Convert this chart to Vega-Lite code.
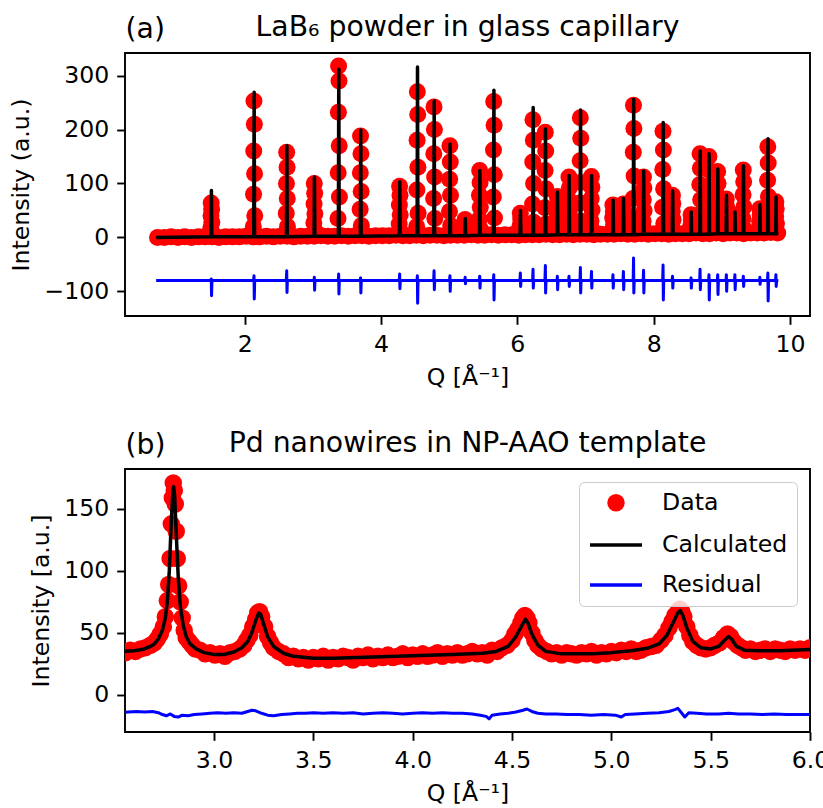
{
  "$schema": "https://vega.github.io/schema/vega-lite/v6.json",
  "background": "white",
  "padding": {"left": 8, "top": 11, "right": 5, "bottom": 5},
  "spacing": 36,
  "config": {
    "font": "DejaVu Sans",
    "view": {"stroke": "black", "strokeWidth": 1.9},
    "axis": {"domain": false, "grid": false, "ticks": true, "tickColor": "black", "tickWidth": 1.9, "tickSize": 8.3, "labelFont": "DejaVu Sans", "labelFontSize": 23.6, "labelColor": "black", "labelPadding": 8, "titleFont": "DejaVu Sans", "titleFontSize": 23.6, "titleFontWeight": "normal", "titleColor": "black", "titlePadding": 10, "labelFlush": false, "labelOverlap": false},
    "title": {"font": "DejaVu Sans", "fontSize": 28.3, "fontWeight": "normal", "color": "black"},
    "legend": {"labelFont": "DejaVu Sans", "labelFontSize": 23.6, "labelColor": "black"}
  },
  "datasets": {
    "lab6_obs": [
      {"q":0.72,"i":0},{"q":0.82,"i":0},{"q":0.92,"i":1},{"q":1.02,"i":0},{"q":1.12,"i":1},{"q":1.22,"i":0},{"q":1.32,"i":1},{"q":1.42,"i":1},{"q":1.52,"i":1},{"q":1.62,"i":0},{"q":1.72,"i":1},{"q":1.82,"i":1},{"q":1.92,"i":1},{"q":2.02,"i":2},{"q":2.12,"i":1},{"q":2.22,"i":1},{"q":2.32,"i":2},{"q":2.42,"i":1},{"q":2.52,"i":2},{"q":2.62,"i":2},{"q":2.72,"i":1},{"q":2.82,"i":2},{"q":2.92,"i":2},{"q":3.02,"i":2},{"q":3.12,"i":3},{"q":3.22,"i":2},{"q":3.32,"i":2},{"q":3.42,"i":3},{"q":3.52,"i":2},{"q":3.62,"i":3},{"q":3.72,"i":3},{"q":3.82,"i":2},{"q":3.92,"i":3},{"q":4.02,"i":3},{"q":4.12,"i":3},{"q":4.22,"i":4},{"q":4.32,"i":3},{"q":4.42,"i":3},{"q":4.52,"i":4},{"q":4.62,"i":3},{"q":4.72,"i":4},{"q":4.82,"i":4},{"q":4.92,"i":3},{"q":5.02,"i":4},{"q":5.12,"i":4},{"q":5.22,"i":4},{"q":5.32,"i":5},{"q":5.42,"i":4},{"q":5.52,"i":4},{"q":5.62,"i":5},{"q":5.72,"i":4},{"q":5.82,"i":5},{"q":5.92,"i":5},{"q":6.02,"i":4},{"q":6.12,"i":5},{"q":6.22,"i":5},{"q":6.32,"i":5},{"q":6.42,"i":6},{"q":6.52,"i":5},{"q":6.62,"i":5},{"q":6.72,"i":6},{"q":6.82,"i":5},{"q":6.92,"i":6},{"q":7.02,"i":6},{"q":7.12,"i":5},{"q":7.22,"i":6},{"q":7.32,"i":6},{"q":7.42,"i":6},{"q":7.52,"i":7},{"q":7.62,"i":6},{"q":7.72,"i":6},{"q":7.82,"i":7},{"q":7.92,"i":6},{"q":8.02,"i":7},{"q":8.12,"i":7},{"q":8.22,"i":6},{"q":8.32,"i":7},{"q":8.42,"i":7},{"q":8.52,"i":7},{"q":8.62,"i":8},{"q":8.72,"i":7},{"q":8.82,"i":7},{"q":8.92,"i":8},{"q":9.02,"i":7},{"q":9.12,"i":8},{"q":9.22,"i":8},{"q":9.32,"i":7},{"q":9.42,"i":8},{"q":9.52,"i":8},{"q":9.62,"i":8},{"q":9.72,"i":9},{"q":9.82,"i":8},
      {"q":1.508,"i":64},{"q":1.514,"i":52},{"q":1.505,"i":40},{"q":1.517,"i":28},{"q":1.502,"i":17},{"q":1.52,"i":8},
      {"q":2.135,"i":253},{"q":2.141,"i":210},{"q":2.132,"i":160},{"q":2.144,"i":118},{"q":2.129,"i":80},{"q":2.147,"i":40},{"q":2.126,"i":20},
      {"q":2.615,"i":158},{"q":2.621,"i":130},{"q":2.612,"i":100},{"q":2.624,"i":72},{"q":2.609,"i":45},{"q":2.627,"i":20},
      {"q":3.02,"i":100},{"q":3.026,"i":82},{"q":3.017,"i":62},{"q":3.029,"i":44},{"q":3.014,"i":27},{"q":3.032,"i":12},
      {"q":3.377,"i":318},{"q":3.383,"i":290},{"q":3.374,"i":232},{"q":3.386,"i":170},{"q":3.371,"i":120},{"q":3.389,"i":75},{"q":3.368,"i":35},
      {"q":3.699,"i":188},{"q":3.705,"i":155},{"q":3.696,"i":120},{"q":3.708,"i":85},{"q":3.693,"i":52},{"q":3.711,"i":22},
      {"q":4.272,"i":95},{"q":4.278,"i":78},{"q":4.269,"i":60},{"q":4.281,"i":42},{"q":4.266,"i":25},{"q":4.284,"i":11},
      {"q":4.532,"i":270},{"q":4.538,"i":228},{"q":4.529,"i":180},{"q":4.541,"i":130},{"q":4.526,"i":88},{"q":4.544,"i":45},{"q":4.523,"i":20},
      {"q":4.777,"i":242},{"q":4.783,"i":200},{"q":4.774,"i":155},{"q":4.786,"i":112},{"q":4.771,"i":72},{"q":4.789,"i":35},
      {"q":5.01,"i":170},{"q":5.016,"i":140},{"q":5.007,"i":108},{"q":5.019,"i":78},{"q":5.004,"i":48},{"q":5.022,"i":22},
      {"q":5.233,"i":33},{"q":5.239,"i":24},{"q":5.23,"i":15},
      {"q":5.447,"i":124},{"q":5.453,"i":102},{"q":5.444,"i":78},{"q":5.456,"i":56},{"q":5.441,"i":34},{"q":5.459,"i":15},
      {"q":5.653,"i":252},{"q":5.659,"i":208},{"q":5.65,"i":162},{"q":5.662,"i":116},{"q":5.647,"i":75},{"q":5.665,"i":36},
      {"q":6.043,"i":45},{"q":6.049,"i":34},{"q":6.04,"i":22},{"q":6.052,"i":12},
      {"q":6.229,"i":218},{"q":6.235,"i":180},{"q":6.226,"i":140},{"q":6.238,"i":100},{"q":6.223,"i":62},{"q":6.241,"i":28},
      {"q":6.41,"i":195},{"q":6.416,"i":160},{"q":6.407,"i":124},{"q":6.419,"i":90},{"q":6.404,"i":55},{"q":6.422,"i":25},
      {"q":6.586,"i":76},{"q":6.592,"i":62},{"q":6.583,"i":46},{"q":6.595,"i":32},{"q":6.58,"i":18},
      {"q":6.757,"i":112},{"q":6.763,"i":92},{"q":6.754,"i":70},{"q":6.766,"i":50},{"q":6.751,"i":30},{"q":6.769,"i":14},
      {"q":6.924,"i":222},{"q":6.93,"i":184},{"q":6.921,"i":142},{"q":6.933,"i":102},{"q":6.918,"i":64},{"q":6.936,"i":30},
      {"q":7.087,"i":113},{"q":7.093,"i":93},{"q":7.084,"i":72},{"q":7.096,"i":51},{"q":7.081,"i":31},{"q":7.099,"i":14},
      {"q":7.402,"i":60},{"q":7.408,"i":48},{"q":7.399,"i":36},{"q":7.411,"i":24},{"q":7.396,"i":13},
      {"q":7.555,"i":62},{"q":7.561,"i":50},{"q":7.552,"i":37},{"q":7.564,"i":25},{"q":7.549,"i":13},
      {"q":7.704,"i":245},{"q":7.71,"i":202},{"q":7.701,"i":158},{"q":7.713,"i":114},{"q":7.698,"i":72},{"q":7.716,"i":34},
      {"q":7.851,"i":112},{"q":7.857,"i":92},{"q":7.848,"i":70},{"q":7.86,"i":50},{"q":7.845,"i":30},{"q":7.863,"i":14},
      {"q":8.137,"i":197},{"q":8.143,"i":162},{"q":8.134,"i":126},{"q":8.146,"i":90},{"q":8.131,"i":56},{"q":8.149,"i":26},
      {"q":8.276,"i":78},{"q":8.282,"i":63},{"q":8.273,"i":48},{"q":8.285,"i":33},{"q":8.27,"i":19},
      {"q":8.548,"i":42},{"q":8.554,"i":32},{"q":8.545,"i":21},{"q":8.557,"i":12},
      {"q":8.68,"i":155},{"q":8.686,"i":128},{"q":8.677,"i":98},{"q":8.689,"i":70},{"q":8.674,"i":43},{"q":8.692,"i":20},
      {"q":8.811,"i":150},{"q":8.817,"i":124},{"q":8.808,"i":95},{"q":8.82,"i":68},{"q":8.805,"i":42},{"q":8.823,"i":19},
      {"q":8.939,"i":122},{"q":8.945,"i":100},{"q":8.936,"i":77},{"q":8.948,"i":55},{"q":8.933,"i":34},{"q":8.951,"i":16},
      {"q":9.066,"i":71},{"q":9.072,"i":57},{"q":9.063,"i":43},{"q":9.075,"i":30},{"q":9.06,"i":17},
      {"q":9.191,"i":41},{"q":9.197,"i":31},{"q":9.188,"i":20},{"q":9.2,"i":11},
      {"q":9.315,"i":125},{"q":9.321,"i":103},{"q":9.312,"i":79},{"q":9.324,"i":57},{"q":9.309,"i":35},{"q":9.327,"i":16},
      {"q":9.557,"i":53},{"q":9.563,"i":42},{"q":9.554,"i":30},{"q":9.566,"i":18},
      {"q":9.675,"i":168},{"q":9.681,"i":138},{"q":9.672,"i":106},{"q":9.684,"i":76},{"q":9.669,"i":47},{"q":9.687,"i":21},
      {"q":9.793,"i":66},{"q":9.799,"i":53},{"q":9.79,"i":39},{"q":9.802,"i":26},{"q":9.787,"i":14}
    ],
    "lab6_calc": [
      {"q":0.70,"i":0},
      {"q":1.505,"i":1},{"q":1.511,"i":87},{"q":1.517,"i":1},
      {"q":2.132,"i":1},{"q":2.138,"i":269},{"q":2.144,"i":1},
      {"q":2.612,"i":1},{"q":2.618,"i":170},{"q":2.624,"i":1},
      {"q":3.017,"i":2},{"q":3.023,"i":112},{"q":3.029,"i":2},
      {"q":3.374,"i":2},{"q":3.38,"i":312},{"q":3.386,"i":2},
      {"q":3.696,"i":2},{"q":3.702,"i":199},{"q":3.708,"i":2},
      {"q":4.269,"i":3},{"q":4.275,"i":103},{"q":4.281,"i":3},
      {"q":4.529,"i":3},{"q":4.535,"i":316},{"q":4.541,"i":3},
      {"q":4.774,"i":3},{"q":4.78,"i":253},{"q":4.786,"i":3},
      {"q":5.007,"i":3},{"q":5.013,"i":173},{"q":5.019,"i":3},
      {"q":5.23,"i":3},{"q":5.236,"i":35},{"q":5.242,"i":3},
      {"q":5.444,"i":4},{"q":5.45,"i":124},{"q":5.456,"i":4},
      {"q":5.65,"i":4},{"q":5.656,"i":273},{"q":5.662,"i":4},
      {"q":6.04,"i":4},{"q":6.046,"i":50},{"q":6.052,"i":4},
      {"q":6.226,"i":4},{"q":6.232,"i":241},{"q":6.238,"i":4},
      {"q":6.407,"i":4},{"q":6.413,"i":201},{"q":6.419,"i":4},
      {"q":6.583,"i":5},{"q":6.589,"i":84},{"q":6.595,"i":5},
      {"q":6.754,"i":5},{"q":6.76,"i":115},{"q":6.766,"i":5},
      {"q":6.921,"i":5},{"q":6.927,"i":236},{"q":6.933,"i":5},
      {"q":7.084,"i":5},{"q":7.09,"i":115},{"q":7.096,"i":5},
      {"q":7.399,"i":5},{"q":7.405,"i":69},{"q":7.411,"i":5},
      {"q":7.552,"i":5},{"q":7.558,"i":72},{"q":7.564,"i":5},
      {"q":7.701,"i":5},{"q":7.707,"i":256},{"q":7.713,"i":5},
      {"q":7.848,"i":6},{"q":7.854,"i":123},{"q":7.86,"i":6},
      {"q":8.134,"i":6},{"q":8.14,"i":213},{"q":8.146,"i":6},
      {"q":8.273,"i":6},{"q":8.279,"i":86},{"q":8.285,"i":6},
      {"q":8.545,"i":6},{"q":8.551,"i":47},{"q":8.557,"i":6},
      {"q":8.677,"i":6},{"q":8.683,"i":160},{"q":8.689,"i":6},
      {"q":8.808,"i":6},{"q":8.814,"i":155},{"q":8.82,"i":6},
      {"q":8.936,"i":7},{"q":8.942,"i":127},{"q":8.948,"i":7},
      {"q":9.063,"i":7},{"q":9.069,"i":78},{"q":9.075,"i":7},
      {"q":9.188,"i":7},{"q":9.194,"i":47},{"q":9.2,"i":7},
      {"q":9.312,"i":7},{"q":9.318,"i":133},{"q":9.324,"i":7},
      {"q":9.554,"i":7},{"q":9.56,"i":61},{"q":9.566,"i":7},
      {"q":9.672,"i":7},{"q":9.678,"i":183},{"q":9.684,"i":7},
      {"q":9.79,"i":7},{"q":9.796,"i":75},{"q":9.802,"i":7},
      {"q":9.83,"i":7}
    ],
    "lab6_res": [
      {"q":0.70,"i":-80},
      {"q":1.503,"i":-80},{"q":1.509,"i":-77},{"q":1.513,"i":-108},{"q":1.519,"i":-80},
      {"q":2.13,"i":-80},{"q":2.136,"i":-71},{"q":2.14,"i":-114},{"q":2.146,"i":-80},
      {"q":2.61,"i":-80},{"q":2.616,"i":-62},{"q":2.62,"i":-102},{"q":2.626,"i":-80},
      {"q":3.015,"i":-80},{"q":3.021,"i":-74},{"q":3.025,"i":-98},{"q":3.031,"i":-80},
      {"q":3.372,"i":-80},{"q":3.378,"i":-68},{"q":3.382,"i":-105},{"q":3.388,"i":-80},
      {"q":3.694,"i":-80},{"q":3.7,"i":-75},{"q":3.704,"i":-103},{"q":3.71,"i":-80},
      {"q":4.267,"i":-80},{"q":4.273,"i":-68},{"q":4.277,"i":-95},{"q":4.283,"i":-80},
      {"q":4.527,"i":-80},{"q":4.533,"i":-71},{"q":4.537,"i":-122},{"q":4.543,"i":-80},
      {"q":4.772,"i":-80},{"q":4.778,"i":-62},{"q":4.782,"i":-97},{"q":4.788,"i":-80},
      {"q":5.005,"i":-80},{"q":5.011,"i":-71},{"q":5.015,"i":-100},{"q":5.021,"i":-80},
      {"q":5.228,"i":-80},{"q":5.234,"i":-74},{"q":5.238,"i":-86},{"q":5.244,"i":-80},
      {"q":5.442,"i":-80},{"q":5.448,"i":-72},{"q":5.452,"i":-94},{"q":5.458,"i":-80},
      {"q":5.648,"i":-80},{"q":5.654,"i":-69},{"q":5.658,"i":-116},{"q":5.664,"i":-80},
      {"q":6.038,"i":-80},{"q":6.044,"i":-66},{"q":6.048,"i":-91},{"q":6.054,"i":-80},
      {"q":6.224,"i":-80},{"q":6.23,"i":-59},{"q":6.234,"i":-94},{"q":6.24,"i":-80},
      {"q":6.405,"i":-80},{"q":6.411,"i":-52},{"q":6.415,"i":-103},{"q":6.421,"i":-80},
      {"q":6.581,"i":-80},{"q":6.587,"i":-72},{"q":6.591,"i":-97},{"q":6.597,"i":-80},
      {"q":6.752,"i":-80},{"q":6.758,"i":-72},{"q":6.762,"i":-91},{"q":6.768,"i":-80},
      {"q":6.919,"i":-80},{"q":6.925,"i":-56},{"q":6.929,"i":-103},{"q":6.935,"i":-80},
      {"q":7.082,"i":-80},{"q":7.088,"i":-63},{"q":7.092,"i":-94},{"q":7.098,"i":-80},
      {"q":7.397,"i":-80},{"q":7.403,"i":-69},{"q":7.407,"i":-94},{"q":7.413,"i":-80},
      {"q":7.55,"i":-80},{"q":7.556,"i":-63},{"q":7.56,"i":-97},{"q":7.566,"i":-80},
      {"q":7.699,"i":-80},{"q":7.705,"i":-38},{"q":7.709,"i":-103},{"q":7.715,"i":-80},
      {"q":7.846,"i":-80},{"q":7.852,"i":-61},{"q":7.856,"i":-103},{"q":7.862,"i":-80},
      {"q":8.132,"i":-80},{"q":8.138,"i":-51},{"q":8.142,"i":-116},{"q":8.148,"i":-80},
      {"q":8.271,"i":-80},{"q":8.277,"i":-72},{"q":8.281,"i":-94},{"q":8.287,"i":-80},
      {"q":8.543,"i":-80},{"q":8.549,"i":-75},{"q":8.553,"i":-94},{"q":8.559,"i":-80},
      {"q":8.675,"i":-80},{"q":8.681,"i":-59},{"q":8.685,"i":-97},{"q":8.691,"i":-80},
      {"q":8.806,"i":-80},{"q":8.812,"i":-69},{"q":8.816,"i":-116},{"q":8.822,"i":-80},
      {"q":8.934,"i":-80},{"q":8.94,"i":-69},{"q":8.944,"i":-106},{"q":8.95,"i":-80},
      {"q":9.061,"i":-80},{"q":9.067,"i":-69},{"q":9.071,"i":-100},{"q":9.077,"i":-80},
      {"q":9.186,"i":-80},{"q":9.192,"i":-69},{"q":9.196,"i":-97},{"q":9.202,"i":-80},
      {"q":9.31,"i":-80},{"q":9.316,"i":-72},{"q":9.32,"i":-91},{"q":9.326,"i":-80},
      {"q":9.552,"i":-80},{"q":9.558,"i":-74},{"q":9.562,"i":-87},{"q":9.568,"i":-80},
      {"q":9.67,"i":-80},{"q":9.676,"i":-66},{"q":9.68,"i":-118},{"q":9.686,"i":-80},
      {"q":9.788,"i":-80},{"q":9.794,"i":-69},{"q":9.798,"i":-91},{"q":9.804,"i":-80},
      {"q":9.83,"i":-80}
    ],
    "pd_obs": [
      {"q":2.53,"i":35},{"q":2.555,"i":34},{"q":2.58,"i":36},{"q":2.605,"i":35},{"q":2.63,"i":37},{"q":2.655,"i":38},{"q":2.68,"i":40},{"q":2.70,"i":42},{"q":2.715,"i":45},{"q":2.73,"i":49},{"q":2.745,"i":55},{"q":2.755,"i":63},
      {"q":2.765,"i":76},{"q":2.772,"i":89},{"q":2.779,"i":110},{"q":2.785,"i":138},{"q":2.79,"i":159},{"q":2.795,"i":171},{"q":2.80,"i":165},{"q":2.805,"i":154},{"q":2.81,"i":132},{"q":2.815,"i":110},{"q":2.822,"i":88},{"q":2.83,"i":75},{"q":2.84,"i":62},{"q":2.85,"i":52},
      {"q":2.86,"i":46},{"q":2.875,"i":43},{"q":2.89,"i":40},{"q":2.905,"i":37},{"q":2.93,"i":36},{"q":2.955,"i":33},{"q":2.98,"i":34},{"q":3.005,"i":32},{"q":3.03,"i":33},{"q":3.055,"i":31},{"q":3.08,"i":34},{"q":3.105,"i":35},{"q":3.13,"i":37},{"q":3.15,"i":40},{"q":3.165,"i":44},{"q":3.18,"i":48},{"q":3.195,"i":55},{"q":3.21,"i":61},{"q":3.22,"i":66},{"q":3.23,"i":67},{"q":3.24,"i":63},{"q":3.255,"i":55},{"q":3.27,"i":47},{"q":3.285,"i":42},{"q":3.30,"i":38},{"q":3.325,"i":35},{"q":3.35,"i":33},{"q":3.375,"i":30},{"q":3.40,"i":31},{"q":3.425,"i":29},{"q":3.45,"i":30},{"q":3.475,"i":28},{"q":3.50,"i":30},{"q":3.525,"i":29},{"q":3.55,"i":31},{"q":3.575,"i":28},{"q":3.60,"i":30},{"q":3.625,"i":29},{"q":3.65,"i":31},{"q":3.675,"i":30},{"q":3.70,"i":28},{"q":3.725,"i":31},{"q":3.75,"i":30},{"q":3.775,"i":32},{"q":3.80,"i":29},{"q":3.825,"i":31},{"q":3.85,"i":30},{"q":3.875,"i":32},{"q":3.90,"i":30},{"q":3.925,"i":31},{"q":3.95,"i":33},{"q":3.975,"i":30},{"q":4.00,"i":32},{"q":4.025,"i":31},{"q":4.05,"i":33},{"q":4.075,"i":31},{"q":4.10,"i":32},{"q":4.125,"i":34},{"q":4.15,"i":31},{"q":4.175,"i":33},{"q":4.20,"i":32},{"q":4.225,"i":34},{"q":4.25,"i":32},{"q":4.275,"i":33},{"q":4.30,"i":35},{"q":4.325,"i":33},{"q":4.35,"i":34},{"q":4.375,"i":32},{"q":4.40,"i":36},{"q":4.425,"i":35},{"q":4.45,"i":38},{"q":4.475,"i":40},{"q":4.50,"i":44},{"q":4.515,"i":49},{"q":4.53,"i":53},{"q":4.545,"i":58},{"q":4.555,"i":62},{"q":4.565,"i":64},{"q":4.575,"i":62},{"q":4.585,"i":58},{"q":4.60,"i":50},{"q":4.615,"i":44},{"q":4.63,"i":40},{"q":4.65,"i":37},{"q":4.675,"i":35},{"q":4.70,"i":33},{"q":4.725,"i":34},{"q":4.75,"i":32},{"q":4.775,"i":34},{"q":4.80,"i":33},{"q":4.825,"i":32},{"q":4.85,"i":34},{"q":4.875,"i":33},{"q":4.90,"i":35},{"q":4.925,"i":32},{"q":4.95,"i":34},{"q":4.975,"i":33},{"q":5.00,"i":35},{"q":5.025,"i":34},{"q":5.05,"i":36},{"q":5.075,"i":35},{"q":5.10,"i":37},{"q":5.125,"i":35},{"q":5.15,"i":36},{"q":5.175,"i":38},{"q":5.20,"i":39},{"q":5.225,"i":40},{"q":5.25,"i":44},{"q":5.27,"i":48},{"q":5.29,"i":54},{"q":5.305,"i":59},{"q":5.32,"i":64},{"q":5.335,"i":67},{"q":5.345,"i":69},{"q":5.355,"i":67},{"q":5.365,"i":63},{"q":5.38,"i":55},{"q":5.395,"i":48},{"q":5.41,"i":43},{"q":5.43,"i":40},{"q":5.45,"i":38},{"q":5.475,"i":37},{"q":5.50,"i":38},{"q":5.52,"i":40},{"q":5.545,"i":42},{"q":5.565,"i":46},{"q":5.585,"i":49},{"q":5.60,"i":47},{"q":5.615,"i":43},{"q":5.635,"i":40},{"q":5.655,"i":38},{"q":5.675,"i":36},{"q":5.70,"i":37},{"q":5.725,"i":35},{"q":5.75,"i":36},{"q":5.775,"i":37},{"q":5.80,"i":35},{"q":5.825,"i":37},{"q":5.85,"i":36},{"q":5.875,"i":35},{"q":5.90,"i":37},{"q":5.925,"i":36},{"q":5.95,"i":37},{"q":5.975,"i":36},{"q":6.00,"i":38},{"q":6.02,"i":37}
    ],
    "pd_calc": [
      {"q":2.53,"i":35},{"q":2.60,"i":35.5},{"q":2.65,"i":37},{"q":2.68,"i":39},{"q":2.70,"i":41},{"q":2.72,"i":45},{"q":2.74,"i":52},{"q":2.755,"i":62},{"q":2.765,"i":75},{"q":2.775,"i":100},{"q":2.785,"i":140},{"q":2.793,"i":164},{"q":2.797,"i":168},{"q":2.802,"i":160},{"q":2.81,"i":130},{"q":2.82,"i":95},{"q":2.83,"i":72},{"q":2.845,"i":56},{"q":2.86,"i":47},{"q":2.88,"i":41},{"q":2.91,"i":37},{"q":2.95,"i":34},{"q":3.00,"i":32.5},{"q":3.05,"i":32.5},{"q":3.10,"i":34.5},{"q":3.14,"i":38},{"q":3.17,"i":43},{"q":3.19,"i":50},{"q":3.21,"i":60},{"q":3.225,"i":66},{"q":3.235,"i":65},{"q":3.25,"i":57},{"q":3.27,"i":47},{"q":3.30,"i":39},{"q":3.35,"i":33.5},{"q":3.40,"i":31},{"q":3.50,"i":29.5},{"q":3.60,"i":29.5},{"q":3.80,"i":30.5},{"q":4.00,"i":31.5},{"q":4.20,"i":32.5},{"q":4.35,"i":33.5},{"q":4.42,"i":35},{"q":4.48,"i":39},{"q":4.52,"i":47},{"q":4.55,"i":56},{"q":4.568,"i":61},{"q":4.58,"i":58},{"q":4.60,"i":49},{"q":4.63,"i":40},{"q":4.67,"i":35},{"q":4.75,"i":33},{"q":4.90,"i":33},{"q":5.00,"i":34},{"q":5.10,"i":35.5},{"q":5.18,"i":37.5},{"q":5.24,"i":41},{"q":5.28,"i":48},{"q":5.31,"i":58},{"q":5.335,"i":66},{"q":5.347,"i":68},{"q":5.36,"i":64},{"q":5.38,"i":54},{"q":5.41,"i":43},{"q":5.45,"i":38},{"q":5.50,"i":37},{"q":5.54,"i":39},{"q":5.57,"i":44},{"q":5.59,"i":47},{"q":5.605,"i":45},{"q":5.63,"i":39},{"q":5.67,"i":36},{"q":5.75,"i":35.5},{"q":5.85,"i":35.5},{"q":6.00,"i":36.5},{"q":6.02,"i":36.6}
    ],
    "pd_res": [
      {"q":2.53,"i":-14.5},{"q":2.57,"i":-14},{"q":2.61,"i":-13.5},{"q":2.65,"i":-14},{"q":2.69,"i":-13.5},{"q":2.72,"i":-14.5},{"q":2.74,"i":-16},{"q":2.76,"i":-17},{"q":2.78,"i":-15.5},{"q":2.80,"i":-17.5},{"q":2.82,"i":-18},{"q":2.84,"i":-16.5},{"q":2.87,"i":-17},{"q":2.90,"i":-16},{"q":2.94,"i":-15.5},{"q":2.98,"i":-15},{"q":3.02,"i":-14.5},{"q":3.06,"i":-15},{"q":3.10,"i":-14.5},{"q":3.14,"i":-15},{"q":3.17,"i":-13.5},{"q":3.19,"i":-12.5},{"q":3.21,"i":-13},{"q":3.24,"i":-15},{"q":3.27,"i":-16.5},{"q":3.30,"i":-17},{"q":3.34,"i":-16},{"q":3.38,"i":-15.5},{"q":3.42,"i":-15},{"q":3.46,"i":-15},{"q":3.50,"i":-14.5},{"q":3.55,"i":-15},{"q":3.60,"i":-14.5},{"q":3.65,"i":-15},{"q":3.70,"i":-14.5},{"q":3.75,"i":-15.5},{"q":3.80,"i":-15},{"q":3.85,"i":-14.5},{"q":3.90,"i":-15},{"q":3.95,"i":-15.5},{"q":4.00,"i":-15},{"q":4.05,"i":-14.5},{"q":4.10,"i":-15},{"q":4.15,"i":-14.5},{"q":4.20,"i":-15},{"q":4.25,"i":-15},{"q":4.30,"i":-15.5},{"q":4.34,"i":-16.5},{"q":4.37,"i":-17.5},{"q":4.385,"i":-19.5},{"q":4.40,"i":-16.5},{"q":4.44,"i":-15.5},{"q":4.48,"i":-15},{"q":4.52,"i":-14},{"q":4.555,"i":-12.5},{"q":4.575,"i":-11.5},{"q":4.60,"i":-13.5},{"q":4.63,"i":-15},{"q":4.67,"i":-15.5},{"q":4.72,"i":-15.5},{"q":4.78,"i":-16},{"q":4.84,"i":-16},{"q":4.90,"i":-16.5},{"q":4.96,"i":-16},{"q":5.02,"i":-16.5},{"q":5.05,"i":-18},{"q":5.07,"i":-16},{"q":5.12,"i":-15.5},{"q":5.18,"i":-15},{"q":5.24,"i":-14.5},{"q":5.29,"i":-13.5},{"q":5.32,"i":-12},{"q":5.335,"i":-11},{"q":5.355,"i":-15},{"q":5.37,"i":-18},{"q":5.39,"i":-14.5},{"q":5.43,"i":-15},{"q":5.48,"i":-15.5},{"q":5.54,"i":-15.5},{"q":5.59,"i":-15},{"q":5.64,"i":-15.5},{"q":5.70,"i":-15.5},{"q":5.76,"i":-16},{"q":5.82,"i":-15.5},{"q":5.88,"i":-16},{"q":5.94,"i":-16},{"q":6.00,"i":-16},{"q":6.02,"i":-16}
    ]
  },
  "resolve": {
    "scale": {"color": "independent", "stroke": "independent", "shape": "independent", "size": "independent"},
    "legend": {"color": "independent", "stroke": "independent", "shape": "independent", "size": "independent"}
  },
  "vconcat": [
    {
      "width": 685,
      "height": 263,
      "title": {"text": "LaB₆ powder in glass capillary", "anchor": "middle", "frame": "group", "offset": -28},
      "layer": [
        {
          "data": {"name": "lab6_obs"},
          "mark": {"type": "circle", "size": 289, "color": "#ff0000", "opacity": 1, "clip": true},
          "encoding": {
            "x": {"field": "q", "type": "quantitative", "scale": {"domain": [0.243, 10.294], "nice": false, "zero": false}, "axis": {"title": "Q [Å⁻¹]", "values": [2, 4, 6, 8, 10]}},
            "y": {"field": "i", "type": "quantitative", "scale": {"domain": [-145.7, 341.9], "nice": false, "zero": false}, "axis": {"title": "Intensity (a.u.)", "values": [-100, 0, 100, 200, 300]}}
          }
        },
        {
          "data": {"name": "lab6_calc"},
          "mark": {"type": "line", "color": "#000000", "strokeWidth": 3.5, "strokeJoin": "round", "clip": true},
          "encoding": {
            "x": {"field": "q", "type": "quantitative", "axis": {"orient": "top", "title": "(a)", "labels": false, "ticks": false, "domain": false, "titleAnchor": "start", "titleAlign": "left", "titlePadding": 10, "titleFontSize": 28.3}},
            "y": {"field": "i", "type": "quantitative"}
          }
        },
        {
          "data": {"name": "lab6_res"},
          "mark": {"type": "line", "color": "#0000ff", "strokeWidth": 3, "strokeJoin": "round", "clip": true},
          "encoding": {
            "x": {"field": "q", "type": "quantitative", "axis": null},
            "y": {"field": "i", "type": "quantitative"}
          }
        }
      ],
      "resolve": {"axis": {"x": "independent"}}
    },
    {
      "width": 685,
      "height": 263,
      "title": {"text": "Pd nanowires in NP-AAO template", "anchor": "middle", "frame": "group", "offset": -28},
      "layer": [
        {
          "data": {"name": "pd_obs"},
          "mark": {"type": "point", "filled": true, "opacity": 1, "strokeWidth": 3.5, "clip": true},
          "encoding": {
            "x": {"field": "q", "type": "quantitative", "scale": {"domain": [2.552, 6.0], "nice": false, "zero": false}, "axis": {"title": "Q [Å⁻¹]", "values": [3.0, 3.5, 4.0, 4.5, 5.0, 5.5, 6.0], "format": ".1f"}},
            "y": {"field": "i", "type": "quantitative", "scale": {"domain": [-30.1, 182.3], "nice": false, "zero": false}, "axis": {"title": "Intensity [a.u.]", "values": [0, 50, 100, 150]}},
            "color": {"datum": "Data", "type": "nominal", "scale": {"domain": ["Data", "Calculated", "Residual"], "range": ["#ff0000", "#000000", "#0000ff"]},
              "legend": {"title": null, "orient": "top-right", "offset": 13, "fillColor": "rgba(255,255,255,0.8)", "strokeColor": "#cccccc", "cornerRadius": 5, "padding": 9, "labelOffset": 18, "rowPadding": -12, "symbolStrokeWidth": 3.5, "symbolOpacity": 1}},
            "stroke": {"datum": "Data", "type": "nominal", "scale": {"domain": ["Data", "Calculated", "Residual"], "range": ["#ff0000", "#000000", "#0000ff"]},
              "legend": {"title": null, "orient": "top-right", "offset": 13, "fillColor": "rgba(255,255,255,0.8)", "strokeColor": "#cccccc", "cornerRadius": 5, "padding": 9, "labelOffset": 18, "rowPadding": -12, "symbolStrokeWidth": 3.5, "symbolOpacity": 1}},
            "shape": {"datum": "Data", "type": "nominal", "scale": {"domain": ["Data", "Calculated", "Residual"], "range": ["circle", "stroke", "stroke"]},
              "legend": {"title": null, "orient": "top-right", "offset": 13, "fillColor": "rgba(255,255,255,0.8)", "strokeColor": "#cccccc", "cornerRadius": 5, "padding": 9, "labelOffset": 18, "rowPadding": -12, "symbolStrokeWidth": 3.5, "symbolOpacity": 1}},
            "size": {"datum": "Data", "type": "nominal", "scale": {"type": "ordinal", "domain": ["Data", "Calculated", "Residual"], "range": [196, 2704, 2704]},
              "legend": {"title": null, "orient": "top-right", "offset": 13, "fillColor": "rgba(255,255,255,0.8)", "strokeColor": "#cccccc", "cornerRadius": 5, "padding": 9, "labelOffset": 18, "rowPadding": -12, "symbolStrokeWidth": 3.5, "symbolOpacity": 1}}
          }
        },
        {
          "data": {"name": "pd_calc"},
          "mark": {"type": "line", "strokeWidth": 3.5, "strokeJoin": "round", "clip": true},
          "encoding": {
            "x": {"field": "q", "type": "quantitative", "axis": {"orient": "top", "title": "(b)", "labels": false, "ticks": false, "domain": false, "titleAnchor": "start", "titleAlign": "left", "titlePadding": 10, "titleFontSize": 28.3}},
            "y": {"field": "i", "type": "quantitative"},
            "color": {"datum": "Calculated", "type": "nominal"}
          }
        },
        {
          "data": {"name": "pd_res"},
          "mark": {"type": "line", "strokeWidth": 3, "strokeJoin": "round", "clip": true},
          "encoding": {
            "x": {"field": "q", "type": "quantitative", "axis": null},
            "y": {"field": "i", "type": "quantitative"},
            "color": {"datum": "Residual", "type": "nominal"}
          }
        }
      ],
      "resolve": {"axis": {"x": "independent"}}
    }
  ]
}
